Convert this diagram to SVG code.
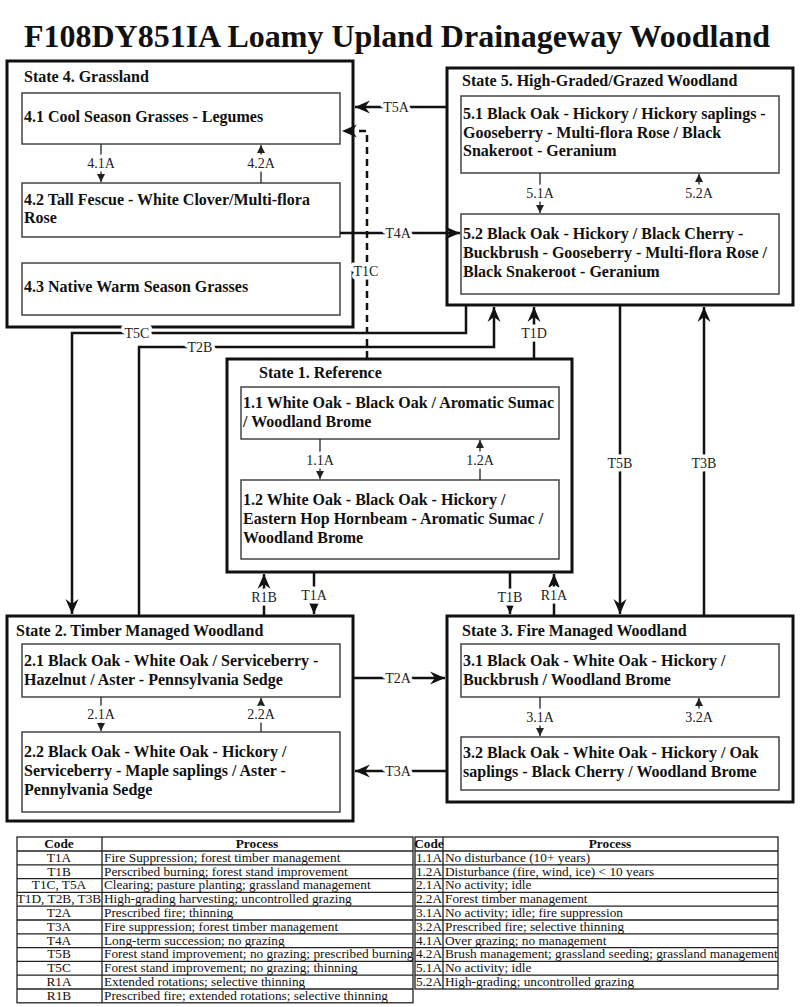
<svg xmlns="http://www.w3.org/2000/svg" width="800" height="1007" viewBox="0 0 800 1007">
<style>
.title{font-family:"Liberation Serif","DejaVu Serif",serif;font-weight:bold;font-size:32px;fill:#111}
.state{fill:#fff;stroke:#111;stroke-width:3}
.sub{fill:#fff;stroke:#444;stroke-width:1.5}
.st{font-family:"Liberation Serif","DejaVu Serif",serif;font-weight:bold;font-size:16px;fill:#111}
.lbl{font-family:"Liberation Serif","DejaVu Serif",serif;font-size:14px;fill:#222;text-anchor:middle;stroke:#fff;stroke-width:7;paint-order:stroke;stroke-linejoin:round}
.con{fill:none;stroke:#111;stroke-width:2.5}
.dash{stroke-dasharray:7 5}
.in{fill:none;stroke:#222;stroke-width:1.3}
.tb{fill:none;stroke:#222;stroke-width:1.3}
.tt{font-family:"Liberation Serif","DejaVu Serif",serif;font-size:13.3px;fill:#111}
.th{font-family:"Liberation Serif","DejaVu Serif",serif;font-size:13.3px;font-weight:bold;fill:#111;text-anchor:middle}
.c{text-anchor:middle}
</style>
<defs>
<marker id="big" viewBox="-15 -7 16 14" refX="0" refY="0" markerWidth="16" markerHeight="14" markerUnits="userSpaceOnUse" orient="auto">
<path d="M0,0 L-15,-6.5 L-10,0 L-15,6.5 Z" fill="#111"/>
</marker>
<marker id="sm" viewBox="-8 -5 9 10" refX="0" refY="0" markerWidth="9" markerHeight="10" markerUnits="userSpaceOnUse" orient="auto">
<path d="M0,0 L-8,-4 L-8,4 Z" fill="#222"/>
</marker>
</defs>
<rect width="800" height="1007" fill="#fff"/>
<text class="title" x="397" y="47" text-anchor="middle">F108DY851IA Loamy Upland Drainageway Woodland</text>

<g id="state4">
<rect class="state" x="7" y="61" width="346" height="266"/>
<text class="st" x="24" y="82">State 4. Grassland</text>
<g id="c41"><rect class="sub" x="22" y="93" width="318" height="51"/><text class="st" x="24" y="122">4.1 Cool Season Grasses - Legumes</text></g>
<g id="c42"><rect class="sub" x="22" y="183" width="318" height="54"/><text class="st" x="24" y="205">4.2 Tall Fescue - White Clover/Multi-flora</text><text class="st" x="24" y="223">Rose</text></g>
<g id="c43"><rect class="sub" x="22" y="263" width="318" height="52"/><text class="st" x="24" y="292">4.3 Native Warm Season Grasses</text></g>
</g>

<g id="state5">
<rect class="state" x="447" y="68" width="346" height="237"/>
<text class="st" x="462" y="86">State 5. High-Graded/Grazed Woodland</text>
<g id="c51"><rect class="sub" x="461" y="96" width="318" height="77"/><text class="st" x="463" y="119">5.1 Black Oak - Hickory / Hickory saplings -</text><text class="st" x="463" y="137.5">Gooseberry - Multi-flora Rose / Black</text><text class="st" x="463" y="156">Snakeroot - Geranium</text></g>
<g id="c52"><rect class="sub" x="461" y="214" width="318" height="80"/><text class="st" x="463" y="239">5.2 Black Oak - Hickory / Black Cherry -</text><text class="st" x="463" y="258">Buckbrush - Gooseberry - Multi-flora Rose /</text><text class="st" x="463" y="277">Black Snakeroot - Geranium</text></g>
</g>

<g id="state1">
<rect class="state" x="227" y="359" width="345" height="213"/>
<text class="st" x="259" y="378">State 1. Reference</text>
<g id="c11"><rect class="sub" x="241" y="387" width="318" height="52"/><text class="st" x="243" y="408">1.1 White Oak - Black Oak / Aromatic Sumac</text><text class="st" x="243" y="427">/ Woodland Brome</text></g>
<g id="c12"><rect class="sub" x="241" y="480" width="318" height="79"/><text class="st" x="243" y="505">1.2 White Oak - Black Oak - Hickory /</text><text class="st" x="243" y="524">Eastern Hop Hornbeam - Aromatic Sumac /</text><text class="st" x="243" y="543">Woodland Brome</text></g>
</g>

<g id="state2">
<rect class="state" x="7" y="616" width="346" height="205"/>
<text class="st" x="16" y="636">State 2. Timber Managed Woodland</text>
<g id="c21"><rect class="sub" x="22" y="644" width="318" height="53"/><text class="st" x="24" y="666">2.1 Black Oak - White Oak / Serviceberry -</text><text class="st" x="24" y="685">Hazelnut / Aster - Pennsylvania Sedge</text></g>
<g id="c22"><rect class="sub" x="22" y="732" width="318" height="80"/><text class="st" x="24" y="757">2.2 Black Oak - White Oak - Hickory /</text><text class="st" x="24" y="776">Serviceberry - Maple saplings / Aster -</text><text class="st" x="24" y="795">Pennylvania Sedge</text></g>
</g>

<g id="state3">
<rect class="state" x="447" y="616" width="346" height="186"/>
<text class="st" x="462" y="636">State 3. Fire Managed Woodland</text>
<g id="c31"><rect class="sub" x="461" y="644" width="318" height="53"/><text class="st" x="463" y="666">3.1 Black Oak - White Oak - Hickory /</text><text class="st" x="463" y="685">Buckbrush / Woodland Brome</text></g>
<g id="c32"><rect class="sub" x="461" y="737" width="318" height="53"/><text class="st" x="463" y="758">3.2 Black Oak - White Oak - Hickory / Oak</text><text class="st" x="463" y="777">saplings - Black Cherry / Woodland Brome</text></g>
</g>

<g id="connectors">
<path class="in" d="M101,144 V182" marker-end="url(#sm)"/>
<text class="lbl" x="101" y="168">4.1A</text>
<path class="in" d="M261,183 V145" marker-end="url(#sm)"/>
<text class="lbl" x="261" y="168">4.2A</text>
<path class="in" d="M540,173 V213" marker-end="url(#sm)"/>
<text class="lbl" x="540" y="198">5.1A</text>
<path class="in" d="M699,187 V174" marker-end="url(#sm)"/>
<text class="lbl" x="699" y="198">5.2A</text>
<path class="in" d="M320,439 V479" marker-end="url(#sm)"/>
<text class="lbl" x="320" y="465">1.1A</text>
<path class="in" d="M480,480 V440" marker-end="url(#sm)"/>
<text class="lbl" x="480" y="465">1.2A</text>
<path class="in" d="M101,697 V731" marker-end="url(#sm)"/>
<text class="lbl" x="101" y="719">2.1A</text>
<path class="in" d="M261,732 V698" marker-end="url(#sm)"/>
<text class="lbl" x="261" y="719">2.2A</text>
<path class="in" d="M540,697 V736" marker-end="url(#sm)"/>
<text class="lbl" x="540" y="722">3.1A</text>
<path class="in" d="M699,710 V698" marker-end="url(#sm)"/>
<text class="lbl" x="699" y="722">3.2A</text>

<path class="con" d="M447,107 H355" marker-end="url(#big)"/>
<text class="lbl" x="396" y="112">T5A</text>
<path class="con dash" d="M367,358 V131 H342" marker-end="url(#big)"/>
<path class="con" d="M340,233 H460" marker-end="url(#big)"/>
<text class="lbl" x="398" y="238">T4A</text>
<text class="lbl" x="366" y="276">T1C</text>
<path class="con" d="M466,306 V333 H72 V614" marker-end="url(#big)"/>
<text class="lbl" x="137" y="338">T5C</text>
<path class="con" d="M139,615 V347 H494 V307" marker-end="url(#big)"/>
<text class="lbl" x="200" y="352">T2B</text>
<path class="con" d="M534,358 V307" marker-end="url(#big)"/>
<text class="lbl" x="534" y="338">T1D</text>
<path class="con" d="M620,306 V614" marker-end="url(#big)"/>
<text class="lbl" x="620" y="468">T5B</text>
<path class="con" d="M704,615 V307" marker-end="url(#big)"/>
<text class="lbl" x="704" y="468">T3B</text>
<path class="con" d="M354,678 H445" marker-end="url(#big)"/>
<text class="lbl" x="398" y="683">T2A</text>
<path class="con" d="M446,771 H355" marker-end="url(#big)"/>
<text class="lbl" x="398" y="776">T3A</text>
<path class="con" d="M264,615 V574" marker-end="url(#big)"/>
<text class="lbl" x="264" y="602">R1B</text>
<path class="con" d="M314,573 V614" marker-end="url(#big)"/>
<text class="lbl" x="314" y="600">T1A</text>
<path class="con" d="M510,573 V614" marker-end="url(#big)"/>
<text class="lbl" x="510" y="602">T1B</text>
<path class="con" d="M554,615 V574" marker-end="url(#big)"/>
<text class="lbl" x="554" y="600">R1A</text>
</g>

<g id="table-transitions">
<rect class="tb" x="17" y="837" width="396" height="165.8"/>
<path class="tb" d="M102,837 V1002.8 M17,851 H413 M17,864.8 H413 M17,878.6 H413 M17,892.4 H413 M17,906.2 H413 M17,920 H413 M17,933.8 H413 M17,947.6 H413 M17,961.4 H413 M17,975.2 H413 M17,989 H413"/>
<text class="th" x="59" y="848">Code</text>
<text class="th" x="257" y="848">Process</text>
<g class="tt">
<text class="c" x="59" y="861.8">T1A</text><text x="104" y="861.8">Fire Suppression; forest timber management</text>
<text class="c" x="59" y="875.6">T1B</text><text x="104" y="875.6">Perscribed burning; forest stand improvement</text>
<text class="c" x="59" y="889.4">T1C, T5A</text><text x="104" y="889.4">Clearing; pasture planting; grassland management</text>
<text class="c" x="59" y="903.2">T1D, T2B, T3B</text><text x="104" y="903.2">High-grading harvesting; uncontrolled grazing</text>
<text class="c" x="59" y="917">T2A</text><text x="104" y="917">Prescribed fire; thinning</text>
<text class="c" x="59" y="930.8">T3A</text><text x="104" y="930.8">Fire suppression; forest timber management</text>
<text class="c" x="59" y="944.6">T4A</text><text x="104" y="944.6">Long-term succession; no grazing</text>
<text class="c" x="59" y="958.4">T5B</text><text x="104" y="958.4">Forest stand improvement; no grazing; prescribed burning</text>
<text class="c" x="59" y="972.2">T5C</text><text x="104" y="972.2">Forest stand improvement; no grazing; thinning</text>
<text class="c" x="59" y="986">R1A</text><text x="104" y="986">Extended rotations; selective thinning</text>
<text class="c" x="59" y="999.8">R1B</text><text x="104" y="999.8">Prescribed fire; extended rotations; selective thinning</text>
</g>
</g>

<g id="table-pathways">
<rect class="tb" x="415" y="837" width="363" height="152"/>
<path class="tb" d="M443,837 V989 M415,851 H778 M415,864.8 H778 M415,878.6 H778 M415,892.4 H778 M415,906.2 H778 M415,920 H778 M415,933.8 H778 M415,947.6 H778 M415,961.4 H778 M415,975.2 H778"/>
<text class="th" x="429" y="848">Code</text>
<text class="th" x="610" y="848">Process</text>
<g class="tt">
<text class="c" x="429" y="861.8">1.1A</text><text x="445" y="861.8">No disturbance (10+ years)</text>
<text class="c" x="429" y="875.6">1.2A</text><text x="445" y="875.6">Disturbance (fire, wind, ice) &lt; 10 years</text>
<text class="c" x="429" y="889.4">2.1A</text><text x="445" y="889.4">No activity; idle</text>
<text class="c" x="429" y="903.2">2.2A</text><text x="445" y="903.2">Forest timber management</text>
<text class="c" x="429" y="917">3.1A</text><text x="445" y="917">No activity; idle; fire suppression</text>
<text class="c" x="429" y="930.8">3.2A</text><text x="445" y="930.8">Prescribed fire; selective thinning</text>
<text class="c" x="429" y="944.6">4.1A</text><text x="445" y="944.6">Over grazing; no management</text>
<text class="c" x="429" y="958.4">4.2A</text><text x="445" y="958.4">Brush management; grassland seeding; grassland management</text>
<text class="c" x="429" y="972.2">5.1A</text><text x="445" y="972.2">No activity; idle</text>
<text class="c" x="429" y="986">5.2A</text><text x="445" y="986">High-grading; uncontrolled grazing</text>
</g>
</g>
</svg>
